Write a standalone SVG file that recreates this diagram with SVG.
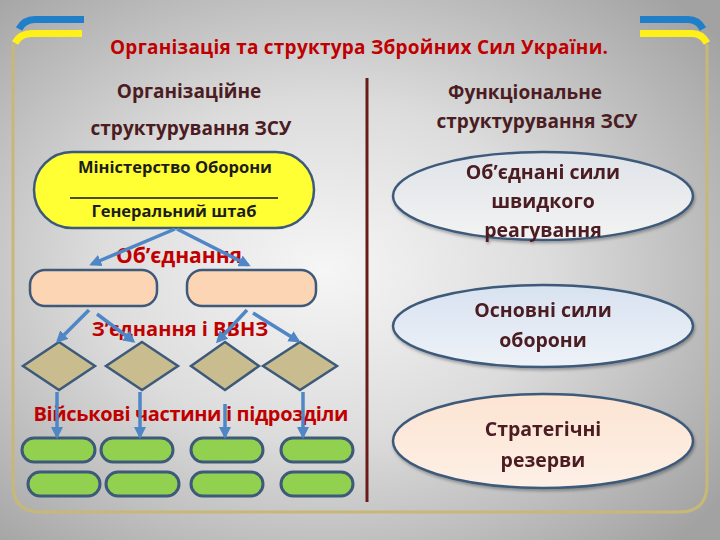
<svg xmlns="http://www.w3.org/2000/svg" width="720" height="540" viewBox="0 0 720 540">
<defs>
<radialGradient id="bg" cx="0.45" cy="0.5" r="0.7">
<stop offset="0" stop-color="#f6f6f6"/>
<stop offset="0.45" stop-color="#dcdcdc"/>
<stop offset="1" stop-color="#a2a2a2"/>
</radialGradient>
<linearGradient id="e1" x1="0" y1="0" x2="0" y2="1">
<stop offset="0" stop-color="#dfe3e8"/>
<stop offset="1" stop-color="#f3f3f3"/>
</linearGradient>
<linearGradient id="e2" x1="0" y1="0" x2="0" y2="1">
<stop offset="0" stop-color="#d8e2f0"/>
<stop offset="1" stop-color="#eef2f8"/>
</linearGradient>
<linearGradient id="e3" x1="0" y1="0" x2="0" y2="1">
<stop offset="0" stop-color="#fce4d2"/>
<stop offset="1" stop-color="#fdf0e6"/>
</linearGradient>
<filter id="sh" x="-10%" y="-10%" width="120%" height="130%">
<feDropShadow dx="1" dy="2" stdDeviation="1.5" flood-color="#000" flood-opacity="0.3"/>
</filter>
<marker id="arr" markerUnits="userSpaceOnUse" markerWidth="12" markerHeight="12" refX="9" refY="6" orient="auto">
<path d="M0,0 L12,6 L0,12 z" fill="#4f86c6"/>
</marker>
<style>
.t{font-family:"Open Sans","Noto Sans","DejaVu Sans",sans-serif;font-weight:bold;text-anchor:middle}
.title{fill:#c00000;font-size:19px}
.head{fill:#4b1c22;font-size:19px}
.red{fill:#c00000;font-size:20px}
.ell{fill:#4b1c22;font-size:19.5px}
.blk{fill:#1c1c1c;font-size:16.5px}
.node{stroke:#3d5a7a;stroke-width:2.5}
.pill{fill:#92d050;stroke:#3d5a7a;stroke-width:3}
.dia{fill:#c9bc8e;stroke:#3d5a7a;stroke-width:2.5}
.peach{fill:#fcd5b4;stroke:#3d5a7a;stroke-width:2.5}
.con{stroke:#4f86c6;stroke-width:3.5;fill:none;marker-end:url(#arr)}
</style>
</defs>
<rect width="720" height="540" fill="url(#bg)"/>
<g id="frame" fill="none">
<path d="M13 44 L13 484 Q13 512 41 512 L679 512 Q707 512 707 484 L707 44" stroke="#c8b878" stroke-width="3"/>
<path d="M84 19.5 L35 19.5 Q24 19.5 19 29" stroke="#1f7fc8" stroke-width="7"/>
<path d="M82 33.5 L32 33.5 Q20 33.5 15 43" stroke="#fff01a" stroke-width="7"/>
<path d="M640 19.5 L688 19.5 Q698 19.5 703 29" stroke="#1f7fc8" stroke-width="7"/>
<path d="M640 33.5 L692 33.5 Q702 33.5 707 43" stroke="#fff01a" stroke-width="7"/>
</g>
<g id="divider">
<line x1="367" y1="78" x2="367" y2="502" stroke="#6b1a1a" stroke-width="3"/>
</g>
<g id="titles">
<text class="t title" x="359" y="54" textLength="498">Організація та структура Збройних Сил України.</text>
<text class="t head" x="189" y="98">Організаційне</text>
<text class="t head" x="191" y="135">структурування ЗСУ</text>
<text class="t head" x="525" y="99">Функціональне</text>
<text class="t head" x="537" y="128">структурування ЗСУ</text>
</g>
<g id="mo">
<rect class="node" x="34" y="152" width="280" height="76" rx="38" fill="#ffff33"/>
<text class="t blk" x="175" y="173">Міністерство Оборони</text>
<line x1="70" y1="198" x2="278" y2="198" stroke="#111" stroke-width="1.5"/>
<text class="t blk" x="174" y="217">Генеральний штаб</text>
</g>
<g id="ob1"><rect class="peach" x="30" y="270" width="127" height="36" rx="15"/></g>
<g id="ob2"><rect class="peach" x="187" y="270" width="129" height="36" rx="15"/></g>
<g id="d1"><polygon class="dia" points="59,342 95,366 59,390 23,366"/></g>
<g id="d2"><polygon class="dia" points="142,342 178,366 142,390 106,366"/></g>
<g id="d3"><polygon class="dia" points="225,342 259,366 225,390 191,366"/></g>
<g id="d4"><polygon class="dia" points="300,342 337,366 300,390 263,366"/></g>
<g id="p1"><rect class="pill" x="22" y="438" width="73" height="24" rx="12"/></g>
<g id="p2"><rect class="pill" x="101" y="438" width="72" height="24" rx="12"/></g>
<g id="p3"><rect class="pill" x="191" y="438" width="72" height="24" rx="12"/></g>
<g id="p4"><rect class="pill" x="281" y="438" width="72" height="24" rx="12"/></g>
<g id="p5"><rect class="pill" x="28" y="472" width="72" height="24" rx="12"/></g>
<g id="p6"><rect class="pill" x="106" y="472" width="73" height="24" rx="12"/></g>
<g id="p7"><rect class="pill" x="191" y="472" width="72" height="24" rx="12"/></g>
<g id="p8"><rect class="pill" x="281" y="472" width="72" height="24" rx="12"/></g>
<g id="labels">
<text class="t red" x="179" y="263" style="font-size:21px">Об’єднання</text>
<text class="t red" x="180" y="336">З’єднання і ВВНЗ</text>
<text class="t red" x="191" y="421" textLength="315">Військові частини і підрозділи</text>
</g>
<g id="connectors">
<line class="con" x1="175" y1="229" x2="92" y2="264"/>
<line class="con" x1="177" y1="229" x2="248" y2="265"/>
<line class="con" x1="89" y1="310" x2="58" y2="341"/>
<line class="con" x1="97" y1="314" x2="133" y2="341"/>
<line class="con" x1="247" y1="310" x2="218" y2="341"/>
<line class="con" x1="253" y1="313" x2="298" y2="341"/>
<line class="con" x1="57" y1="392" x2="57" y2="436"/>
<line class="con" x1="140" y1="392" x2="140" y2="436"/>
<line class="con" x1="225" y1="404" x2="225" y2="436"/>
<line class="con" x1="303" y1="392" x2="303" y2="436"/>
</g>
<g id="e-shvydk" filter="url(#sh)">
<ellipse cx="543" cy="196" rx="150" ry="44" fill="url(#e1)" class="node"/>
<text class="t ell" x="543" y="179">Об’єднані сили</text>
<text class="t ell" x="543" y="208">швидкого</text>
<text class="t ell" x="543" y="237">реагування</text>
</g>
<g id="e-osn" filter="url(#sh)">
<ellipse cx="543" cy="326" rx="150" ry="41" fill="url(#e2)" class="node"/>
<text class="t ell" x="543" y="317">Основні сили</text>
<text class="t ell" x="543" y="347">оборони</text>
</g>
<g id="e-strat" filter="url(#sh)">
<ellipse cx="543" cy="441" rx="150" ry="47" fill="url(#e3)" class="node"/>
<text class="t ell" x="543" y="436">Стратегічні</text>
<text class="t ell" x="543" y="467">резерви</text>
</g>
</svg>
